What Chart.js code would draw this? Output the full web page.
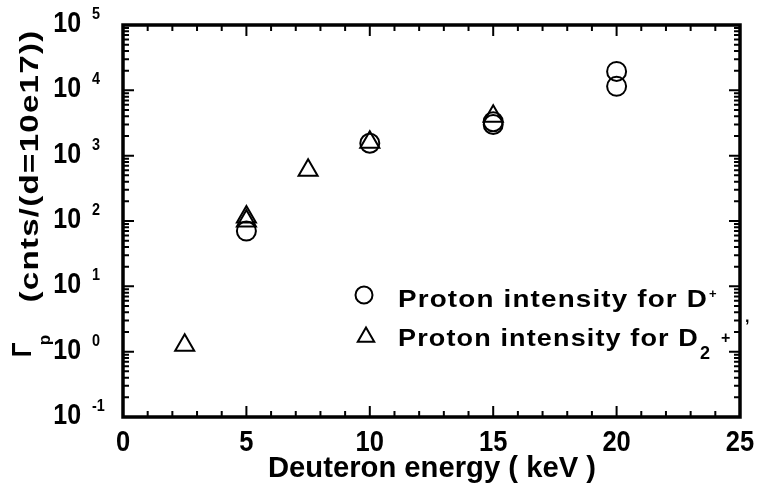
<!DOCTYPE html>
<html><head><meta charset="utf-8">
<script src="https://cdn.jsdelivr.net/npm/chart.js@4/dist/chart.umd.min.js"></script>
<style>html,body{margin:0;padding:0;background:#fff}canvas{display:block}</style>
</head><body>
<canvas id="c" width="758" height="483"></canvas>
<script>
// ---- data ----
const energyD = [5, 10, 15, 15, 20, 20];               // keV, D+ beam
const intensityD = [70, 1550, 3300, 3000, 19500, 11500];
const energyD2 = [2.5, 5, 5, 7.5, 10, 15];             // keV, D2+ beam
const intensityD2 = [1.25, 115, 100, 600, 1600, 4000];
const xTickValues = [0, 5, 10, 15, 20, 25];
const xTickLabels = ['0', '5', '10', '15', '20', '25'];
const xMinorStep = 1;
const yDecadeExponents = [-1, 0, 1, 2, 3, 4, 5];
const xTitle = 'Deuteron energy ( keV )';
const yTitle = '(cnts/(d=10e17))';
const legendText = ['Proton intensity for D', 'Proton intensity for D'];

const FONT = '"Liberation Sans", Arial, Helvetica, sans-serif';

function drawFit(ctx, s, x, y, size, opts) {
  opts = opts || {};
  ctx.save();
  ctx.font = 'bold ' + size + 'px ' + FONT;
  if ('letterSpacing' in ctx) ctx.letterSpacing = (opts.ls || 0) + 'px';
  ctx.translate(x, y);
  if (opts.rot) ctx.rotate(opts.rot);
  const w = ctx.measureText(s).width;
  let sx = opts.sx || 1;
  if (opts.width) sx = opts.width / w;
  ctx.scale(sx, 1);
  ctx.textAlign = opts.align || 'left';
  ctx.textBaseline = 'alphabetic';
  ctx.fillStyle = '#000';
  ctx.fillText(s, 0, 0);
  ctx.restore();
  return w * sx;
}

const framePlugin = {
  id: 'frame',
  afterDraw(chart) {
    const ctx = chart.ctx;
    const a = chart.chartArea;
    const xs = chart.scales.x, ys = chart.scales.y;
    ctx.save();
    ctx.strokeStyle = '#000';
    // ticks
    ctx.lineWidth = 2;
    ctx.beginPath();
    for (let v = xs.min; v <= xs.max + 1e-9; v += xMinorStep) {
      const px = xs.getPixelForValue(v);
      const len = xTickValues.includes(v) ? 11 : 6;
      ctx.moveTo(px, a.bottom); ctx.lineTo(px, a.bottom - len);
      ctx.moveTo(px, a.top); ctx.lineTo(px, a.top + len);
    }
    yDecadeExponents.forEach(e => {
      for (let m = 1; m <= 9; m++) {
        const v = m * Math.pow(10, e);
        if (v > ys.max * 1.0001) break;
        const py = ys.getPixelForValue(v);
        const len = m === 1 ? 11 : 6;
        ctx.moveTo(a.left, py); ctx.lineTo(a.left + len, py);
        ctx.moveTo(a.right, py); ctx.lineTo(a.right - len, py);
      }
    });
    ctx.stroke();
    // frame
    ctx.lineWidth = 3.5;
    ctx.strokeRect(a.left, a.top, a.right - a.left, a.bottom - a.top);
    ctx.restore();

    // y tick labels 10^n
    yDecadeExponents.forEach(e => {
      const py = ys.getPixelForValue(Math.pow(10, e));
      drawFit(ctx, '10', 81, py + 7, 29, {align: 'right', sx: 0.86});
      drawFit(ctx, String(e), 92, py - 6, 16, {sx: 0.9});
    });
    // x tick labels
    xTickValues.forEach((v, i) => {
      const px = xs.getPixelForValue(v);
      drawFit(ctx, xTickLabels[i], px, 451, 30, {align: 'center', sx: 0.85});
    });
    // x title
    drawFit(ctx, xTitle, 432, 477, 30, {align: 'center', width: 328});
    // y title
    drawFit(ctx, '\u0393', 31, 350, 27, {rot: -Math.PI / 2, align: 'center', sx: 0.9});
    drawFit(ctx, 'p', 50, 340, 17, {rot: -Math.PI / 2, align: 'center'});
    drawFit(ctx, yTitle, 38, 166, 26, {rot: -Math.PI / 2, align: 'center', width: 273, ls: 1});

    // legend
    ctx.save();
    ctx.strokeStyle = '#000';
    ctx.lineWidth = 2;
    ctx.beginPath();
    ctx.arc(364, 295, 8.5, 0, Math.PI * 2);
    ctx.stroke();
    const r = 9.5, cx = 366, cy = 337;
    ctx.beginPath();
    for (let k = 0; k < 3; k++) {
      const ang = k * 2 * Math.PI / 3;
      const px = cx + Math.sin(ang) * r, py = cy - Math.cos(ang) * r;
      k === 0 ? ctx.moveTo(px, py) : ctx.lineTo(px, py);
    }
    ctx.closePath();
    ctx.stroke();
    ctx.restore();
    drawFit(ctx, legendText[0], 398, 307, 24, {width: 310, ls: 1});
    drawFit(ctx, '+', 709, 298, 13);
    drawFit(ctx, legendText[1], 398, 346, 24, {width: 301, ls: 1});
    drawFit(ctx, '2', 700, 359, 18);
    drawFit(ctx, '+', 721, 343, 16);
    drawFit(ctx, ',', 745, 322, 16);
  }
};

new Chart(document.getElementById('c'), {
  type: 'scatter',
  data: {
    datasets: [
      {
        label: 'Proton intensity for D+',
        data: energyD.map((x, i) => ({x: x, y: intensityD[i]})),
        pointStyle: 'circle', pointRadius: 9.5, borderWidth: 2,
        borderColor: '#000', backgroundColor: 'rgba(0,0,0,0)'
      },
      {
        label: 'Proton intensity for D2+',
        data: energyD2.map((x, i) => ({x: x, y: intensityD2[i]})),
        pointStyle: 'triangle', pointRadius: 11, borderWidth: 2,
        borderColor: '#000', backgroundColor: 'rgba(0,0,0,0)'
      }
    ]
  },
  options: {
    responsive: false, animation: false, devicePixelRatio: 1,
    layout: {padding: {left: 123, right: 18, top: 25, bottom: 66}},
    plugins: {legend: {display: false}, tooltip: {enabled: false}},
    scales: {
      x: {type: 'linear', min: 0, max: 25,
          grid: {display: false, drawTicks: false}, border: {display: false},
          ticks: {display: false}, afterFit: s => { s.height = 0; }},
      y: {type: 'logarithmic', min: 0.1, max: 100000,
          grid: {display: false, drawTicks: false}, border: {display: false},
          ticks: {display: false}, afterFit: s => { s.width = 0; }}
    }
  },
  plugins: [framePlugin]
});
</script>
</body></html>
